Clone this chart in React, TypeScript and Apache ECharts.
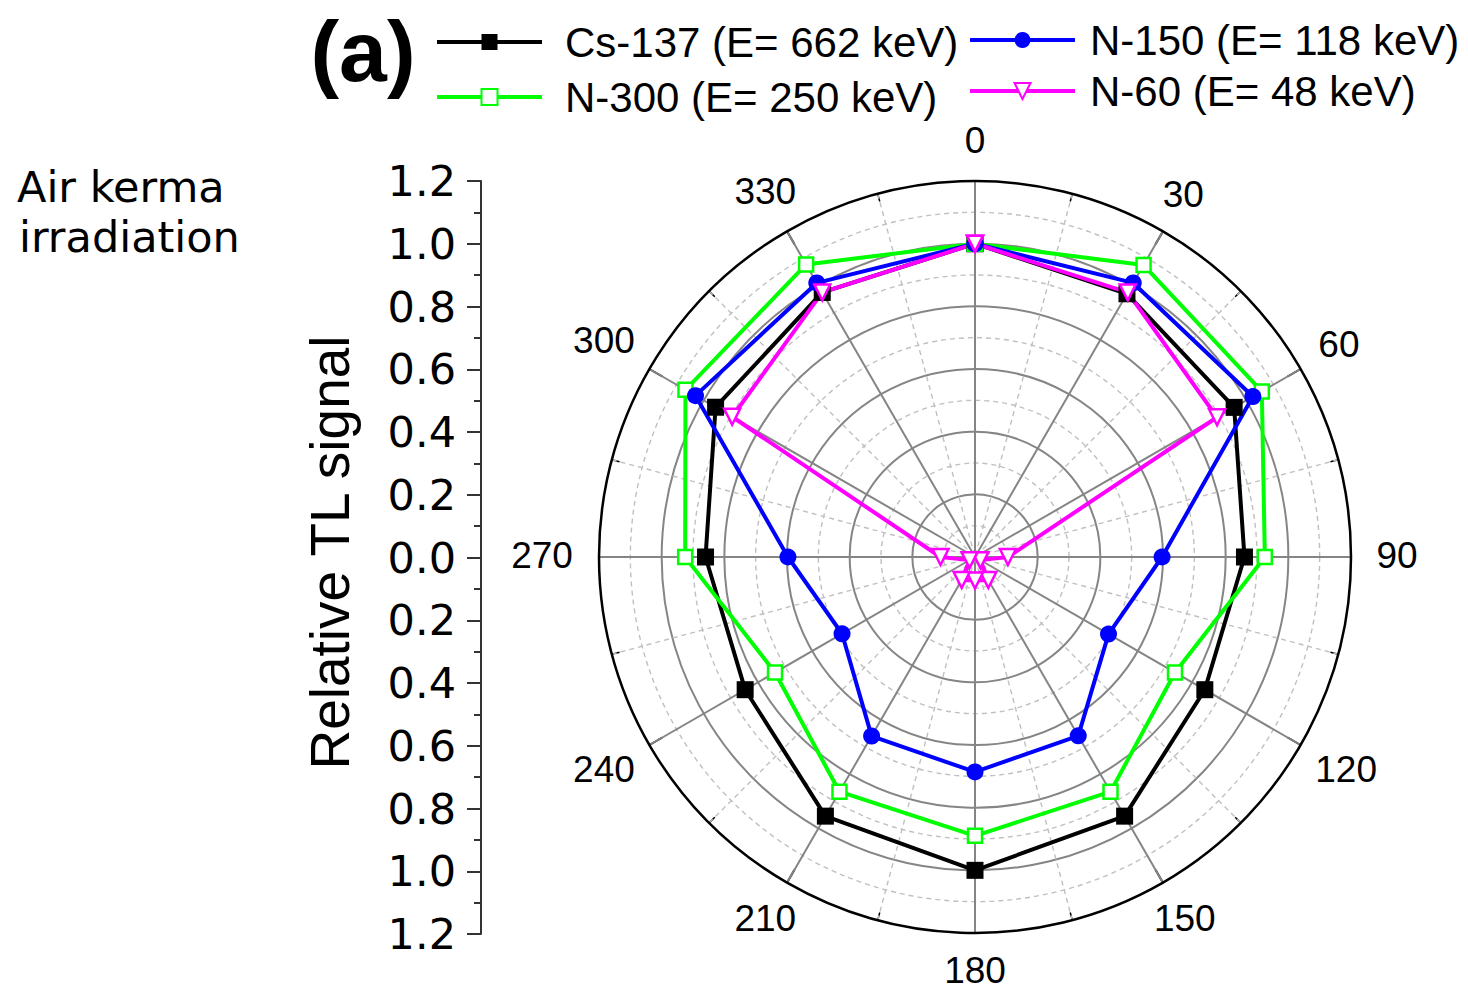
import React, { useEffect, useRef } from "react";
import * as echarts from "echarts";

// Irradiation angles (degrees, clockwise from top)
const angles = [0, 30, 60, 90, 120, 150, 180, 210, 240, 270, 300, 330];

// Relative TL signal per angle for each beam quality
const cs137 = [1.0, 0.97, 0.955, 0.86, 0.847, 0.955, 1.0, 0.955, 0.847, 0.86, 0.956, 0.975];
const n300 = [1.0, 1.076, 1.057, 0.925, 0.737, 0.865, 0.89, 0.865, 0.737, 0.925, 1.067, 1.078];
const n150 = [1.0, 1.01, 1.024, 0.597, 0.492, 0.659, 0.686, 0.66, 0.49, 0.597, 1.03, 1.01];
const n60 = [1.0, 0.975, 0.892, 0.105, 0.02, 0.085, 0.075, 0.085, 0.02, 0.11, 0.895, 0.975];

const seriesNames = [
  "Cs-137 (E= 662 keV)",
  "N-300 (E= 250 keV)",
  "N-150 (E= 118 keV)",
  "N-60 (E= 48 keV)",
];

const angleLabels = ["0", "30", "60", "90", "120", "150", "180", "210", "240", "270", "300", "330"];

const RADIUS_MAX = 1.2;
const CX = 975;
const CY = 557;
const R = 376;

// Angle labels sit just outside the rim; wider labels are pushed further out
// sideways so that their nearest edge keeps the same gap to the circle.
const LABEL_GAP = 400;
const LABEL_HALF_H = 15;
const LABEL_DIGIT_W = 22;
const LABEL_CY = 555;

const SANS = "'Liberation Sans', Arial, Helvetica, sans-serif";
const DEJAVU = "'DejaVu Sans', Verdana, sans-serif";

function closedLoop(vals: number[]) {
  const pts = angles.map((a, i) => [vals[i], a]);
  pts.push([vals[0], 360]);
  return pts;
}

export default function App() {
  const ref = useRef<HTMLDivElement>(null);

  useEffect(() => {
    if (!ref.current) return;
    const chart = echarts.init(ref.current, undefined, { renderer: "svg" });

    const gridGray = "#858585";
    const dashGray = "#c0c0c0";

    const angleTexts = angles.map((a, i) => {
      const t = (a * Math.PI) / 180;
      const s = Math.sin(t);
      const c = Math.cos(t);
      const halfW = (angleLabels[i].length * LABEL_DIGIT_W) / 2;
      const rr = LABEL_GAP + halfW * s * s + LABEL_HALF_H * c * c;
      return {
        type: "text",
        x: CX + rr * s,
        y: LABEL_CY - rr * c,
        style: {
          text: angleLabels[i],
          fontSize: 37,
          fontFamily: SANS,
          fill: "#000",
          align: "center",
          verticalAlign: "middle",
        },
      };
    });

    const lineSeries = (
      name: string,
      vals: number[],
      color: string,
      symbol: string,
      size: number,
      hollow: boolean,
      rotate = 0
    ) => ({
      name,
      type: "line",
      coordinateSystem: "polar",
      polarIndex: 0,
      data: closedLoop(vals),
      symbol,
      symbolSize: size,
      symbolRotate: rotate,
      showSymbol: true,
      clip: false,
      lineStyle: { color, width: 4 },
      itemStyle: hollow
        ? { color: "#fff", borderColor: color, borderWidth: 2.5 }
        : { color, borderColor: color, borderWidth: 0 },
      emphasis: { disabled: true },
      z: 3,
    });

    const radiusSplitColors = [gridGray, gridGray, gridGray, gridGray, gridGray, gridGray, "rgba(0,0,0,0)"];

    const legendCommon = {
      orient: "vertical",
      padding: 0,
      itemWidth: 105,
      itemHeight: 20,
      selectedMode: false,
      lineStyle: { width: 4 },
    };

    chart.setOption({
      animation: false,
      backgroundColor: "#fff",
      polar: { center: [CX, CY], radius: R },
      angleAxis: {
        type: "value",
        min: 0,
        max: 360,
        interval: 30,
        startAngle: 90,
        clockwise: true,
        z: 2,
        axisLine: { show: true, lineStyle: { color: "#000", width: 2.5 } },
        axisTick: { show: true, inside: true, length: 15, lineStyle: { color: "#000", width: 2 } },
        minorTick: { show: true, splitNumber: 2, length: 8, lineStyle: { color: "#000", width: 1.5 } },
        axisLabel: { show: false },
        splitLine: { show: true, lineStyle: { color: gridGray, width: 2 } },
        minorSplitLine: { show: true, lineStyle: { color: dashGray, width: 1.4, type: [5, 4] } },
      },
      radiusAxis: {
        type: "value",
        min: 0,
        max: RADIUS_MAX,
        interval: 0.2,
        axisLine: { show: false },
        axisTick: { show: false },
        axisLabel: { show: false },
        minorTick: { show: false, splitNumber: 2 },
        splitLine: { show: true, lineStyle: { color: radiusSplitColors, width: 2 } },
        minorSplitLine: { show: true, lineStyle: { color: dashGray, width: 1.4, type: [5, 4] } },
      },
      grid: { left: 481, top: 181, width: 2, height: 753 },
      xAxis: { type: "value", show: false },
      yAxis: {
        type: "value",
        min: -RADIUS_MAX,
        max: RADIUS_MAX,
        interval: 0.2,
        position: "left",
        name: "Relative TL signal",
        nameLocation: "middle",
        nameRotate: 90,
        nameGap: 124,
        nameTextStyle: { fontSize: 55, fontFamily: SANS, color: "#000", padding: [0, 0, 0, 10] },
        axisLine: { show: true, lineStyle: { color: "#333", width: 2 } },
        axisTick: { show: true, length: 14, lineStyle: { color: "#333", width: 2 } },
        minorTick: { show: true, splitNumber: 2, length: 7, lineStyle: { color: "#333", width: 2 } },
        splitLine: { show: false },
        axisLabel: {
          fontSize: 43,
          fontFamily: DEJAVU,
          color: "#000",
          margin: 25,
          formatter: (v: number) => Math.abs(v).toFixed(1),
        },
      },
      legend: [
        {
          ...legendCommon,
          data: [seriesNames[0], seriesNames[1]],
          left: 435,
          top: 21,
          itemGap: 13,
          textStyle: { fontSize: 42, fontFamily: SANS, color: "#000", padding: [0, 0, 0, 18] },
        },
        {
          ...legendCommon,
          data: [seriesNames[2], seriesNames[3]],
          left: 968,
          top: 19,
          itemGap: 9,
          textStyle: { fontSize: 42, fontFamily: SANS, color: "#000", padding: [0, 0, 0, 10] },
        },
      ],
      graphic: [
        {
          type: "text",
          x: 363,
          y: 51,
          style: {
            text: "(a)",
            fontSize: 86,
            fontWeight: "bold",
            fontFamily: SANS,
            fill: "#000",
            align: "center",
            verticalAlign: "middle",
          },
        },
        {
          type: "text",
          x: 17,
          y: 187,
          style: {
            text: "Air kerma",
            fontSize: 43,
            fontFamily: DEJAVU,
            fill: "#000",
            align: "left",
            verticalAlign: "middle",
          },
        },
        {
          type: "text",
          x: 19,
          y: 237,
          style: {
            text: "irradiation",
            fontSize: 43,
            fontFamily: DEJAVU,
            fill: "#000",
            align: "left",
            verticalAlign: "middle",
          },
        },
        ...angleTexts,
      ],
      series: [
        lineSeries(seriesNames[0], cs137, "#000000", "rect", 17, false),
        lineSeries(seriesNames[1], n300, "#00ff00", "rect", 14, true),
        lineSeries(seriesNames[2], n150, "#0000ff", "circle", 17, false),
        lineSeries(seriesNames[3], n60, "#ff00ff", "triangle", 16, true, 180),
      ],
    });

    return () => chart.dispose();
  }, []);

  return (
    <div
      ref={ref}
      style={{ position: "fixed", left: 0, top: 0, width: 1468, height: 990, background: "#fff" }}
    />
  );
}
